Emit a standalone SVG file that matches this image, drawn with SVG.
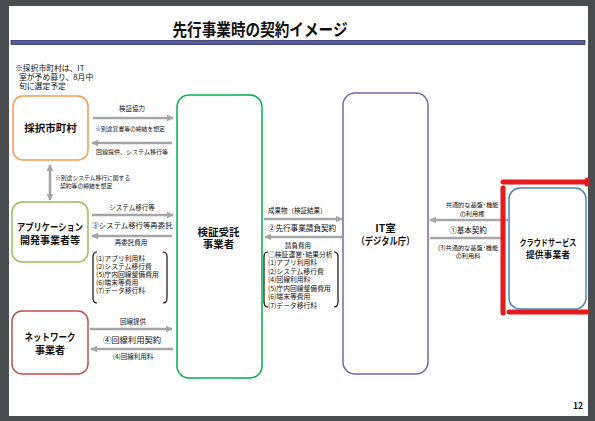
<svg xmlns="http://www.w3.org/2000/svg" width="595" height="421" viewBox="0 0 595 421">
<style>
text{font-family:"Noto Sans CJK JP","Noto Sans",sans-serif;fill:#111}
.b{font-weight:bold}
.node{fill:#fff;stroke-width:1.5}
.arr{stroke:#a6a6a6;stroke-width:2.6;fill:none;marker-end:url(#ah)}
.s{font-size:6.5px}
.xs{font-size:5.8px}
.li{font-size:6.8px}
.br{fill:none;stroke:#111;stroke-width:1.2}
.red{stroke:#e8191e;stroke-width:5;stroke-linecap:round;fill:none}
</style>
<defs>
<marker id="ah" viewBox="0 0 10 10" refX="9" refY="5" markerWidth="7" markerHeight="7" markerUnits="userSpaceOnUse" orient="auto-start-reverse">
<path d="M0,0 L10,5 L0,10 z" fill="#a6a6a6"/>
</marker>
</defs>
<rect width="595" height="421" fill="#4a4d50"/>
<rect x="9" y="6" width="579" height="410" fill="#fff"/>
<text x="260" y="36" class="b" font-size="17" text-anchor="middle" textLength="175" lengthAdjust="spacingAndGlyphs">先行事業時の契約イメージ</text>
<rect x="11" y="40.5" width="574" height="4" fill="#5b5e9a" stroke="#2f3270" stroke-width="0.8"/>
<text font-size="7.8"><tspan x="15" y="71">※採択市町村は、IT</tspan><tspan x="19" y="80">室が予め募り、8月中</tspan><tspan x="19" y="89">旬に選定予定</tspan></text>

<g id="connectors">
<line class="arr" x1="93" y1="118" x2="173" y2="118"/>
<line class="arr" x1="172" y1="143" x2="92" y2="143"/>
<text class="s" x="132" y="110.5" text-anchor="middle">検証協力</text>
<text class="xs" x="130" y="131" text-anchor="middle">※別途覚書等の締結を想定</text>
<text x="132" y="154" font-size="6" text-anchor="middle">回線提供、システム移行等</text>

<line class="arr" x1="50" y1="165" x2="50" y2="200" style="marker-start:url(#ah)"/>
<text class="xs"><tspan x="55" y="180">※別途システム移行に関する</tspan><tspan x="60" y="188">契約等の締結を想定</tspan></text>

<line class="arr" x1="92" y1="215" x2="173" y2="215"/>
<line class="arr" x1="172" y1="236" x2="92" y2="236"/>
<text class="s" x="132" y="210" text-anchor="middle">システム移行等</text>
<text x="132" y="228" font-size="7.4" text-anchor="middle">③システム移行等再委託</text>
<text class="s" x="131" y="244.5" text-anchor="middle">再委託費用</text>
<path class="br" d="M97,252 Q93,252 93,257 L93,298 Q93,303 97,303"/>
<path class="br" d="M163,252 Q167,252 167,257 L167,298 Q167,303 163,303"/>
<text class="li"><tspan x="96" y="260.5">(1)アプリ利用料</tspan><tspan x="96" y="268.5">(2)システム移行費</tspan><tspan x="96" y="276.5">(5)庁内回線整備費用</tspan><tspan x="96" y="284.5">(6)端末等費用</tspan><tspan x="96" y="292.5">(7)データ移行料</tspan></text>

<line class="arr" x1="90" y1="329" x2="172" y2="329"/>
<line class="arr" x1="173" y1="349" x2="91" y2="349"/>
<text class="s" x="133" y="324" text-anchor="middle">回線提供</text>
<text x="132" y="343" font-size="8.3" text-anchor="middle">④回線利用契約</text>
<text class="s" x="133" y="358.5" text-anchor="middle">(4)回線利用料</text>

<line class="arr" x1="264" y1="219" x2="342" y2="219"/>
<line class="arr" x1="342" y1="237" x2="265" y2="237"/>
<text class="s" x="268" y="213">成果物（検証結果）</text>
<text x="302" y="231" font-size="7.6" text-anchor="middle">②先行事業請負契約</text>
<text class="s" x="298" y="247.5" text-anchor="middle">請負費用</text>
<path class="br" d="M268,252 Q264,252 264,257 L264,302 Q264,307 268,307"/>
<path class="br" d="M334,252 Q338,252 338,257 L338,302 Q338,307 334,307"/>
<text class="li"><tspan x="268" y="256.5">○検証運営･結果分析</tspan><tspan x="268" y="265">(1)アプリ利用料</tspan><tspan x="268" y="273.5">(2)システム移行費</tspan><tspan x="268" y="282">(4)回線利用料</tspan><tspan x="268" y="290.5">(5)庁内回線整備費用</tspan><tspan x="268" y="299">(6)端末等費用</tspan><tspan x="268" y="307.5">(7)データ移行料</tspan></text>

<line class="arr" x1="508" y1="220" x2="430" y2="220"/>
<line x1="430" y1="238" x2="505" y2="238" stroke="#a6a6a6" stroke-width="2.6"/>
<text font-size="6.2" text-anchor="middle"><tspan x="472" y="207">共通的な基盤･機能</tspan><tspan x="472" y="215.5">の利用権</tspan></text>
<text x="468" y="233" font-size="7.5" text-anchor="middle">①基本契約</text>
<text font-size="6.2" text-anchor="middle"><tspan x="468" y="249.5">(3)共通的な基盤･機能</tspan><tspan x="468" y="258">の利用料</tspan></text>
</g>

<g id="node-saitaku">
<rect class="node" x="13" y="96" width="75" height="64" rx="10" stroke="#f39a4c"/>
<text class="b" x="50.5" y="132" font-size="10.5" text-anchor="middle">採択市町村</text>
</g>
<g id="node-app">
<rect class="node" x="12" y="202" width="76" height="60" rx="10" stroke="#9bbb59"/>
<text class="b" font-size="10" text-anchor="middle"><tspan x="50" y="231" textLength="66" lengthAdjust="spacingAndGlyphs">アプリケーション</tspan><tspan x="50" y="244">開発事業者等</tspan></text>
</g>
<g id="node-network">
<rect class="node" x="12" y="311" width="76" height="63" rx="10" stroke="#c0504d"/>
<text class="b" font-size="10" text-anchor="middle"><tspan x="50" y="341" textLength="51" lengthAdjust="spacingAndGlyphs">ネットワーク</tspan><tspan x="50" y="354">事業者</tspan></text>
</g>
<g id="node-kensho">
<rect class="node" x="177" y="95" width="85" height="283" rx="12" stroke="#00b050"/>
<text class="b" font-size="10.5" text-anchor="middle"><tspan x="218.5" y="235.5">検証受託</tspan><tspan x="218.5" y="248">事業者</tspan></text>
</g>
<g id="node-it">
<rect class="node" x="343" y="93" width="85" height="281" rx="12" stroke="#8064a2"/>
<text class="b" text-anchor="middle"><tspan x="385.5" y="232" font-size="10.5">IT室</tspan><tspan x="385.5" y="245" font-size="10" textLength="58" lengthAdjust="spacingAndGlyphs">（デジタル庁）</tspan></text>
</g>
<g id="node-cloud">
<rect class="node" x="509" y="188" width="77" height="121" rx="11" stroke="#4f81bd"/>
<text class="b" font-size="8.8" text-anchor="middle"><tspan x="548" y="246" textLength="57" lengthAdjust="spacingAndGlyphs">クラウドサービス</tspan><tspan x="548" y="257.5">提供事業者</tspan></text>
</g>
<g id="highlight">
<line class="red" x1="503" y1="182" x2="587" y2="182"/>
<line class="red" x1="587" y1="180" x2="587" y2="184"/>
<line class="red" x1="503" y1="188" x2="503" y2="313"/>
<line class="red" x1="509" y1="312" x2="587" y2="312"/>
</g>
<text class="b" x="583" y="409" font-size="8.5" text-anchor="end">12</text>
</svg>
